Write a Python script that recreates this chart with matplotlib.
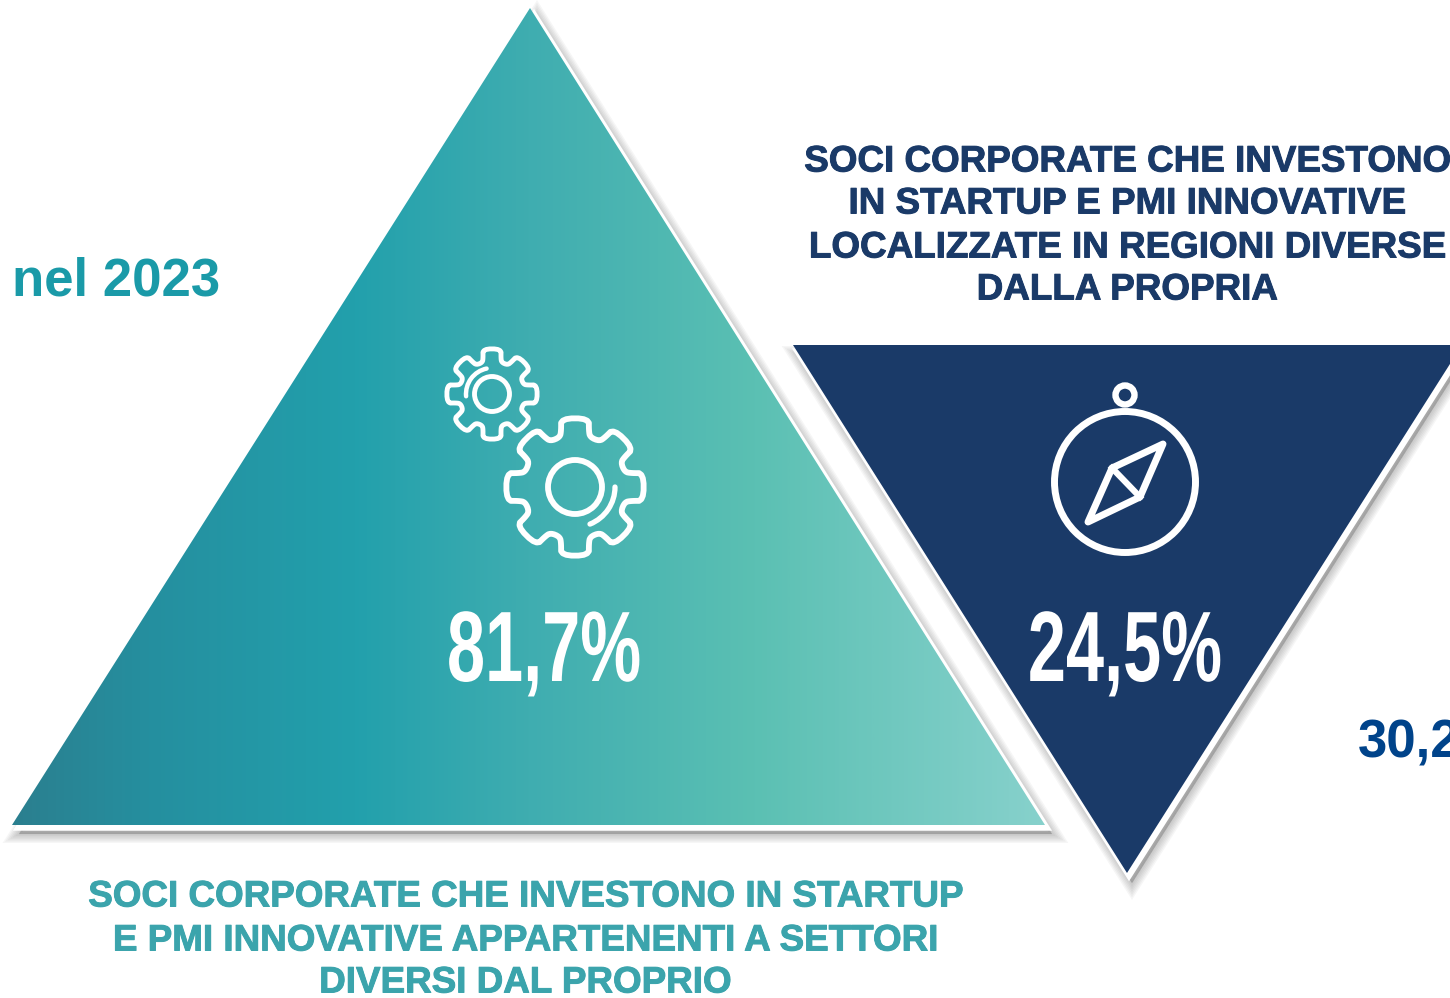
import matplotlib
matplotlib.use("Agg")
import matplotlib.patheffects as pe
import matplotlib.pyplot as plt
import numpy as np
from matplotlib.colors import LinearSegmentedColormap
from matplotlib.patches import Arc, Circle, Polygon
from matplotlib.transforms import Affine2D

# picture coordinates, y going down like the reference
W, H = 1450, 998

up_triangle = [(530, 8), (12, 825), (1045, 825)]
down_triangle = [(793, 345), (1462, 345), (1127, 873)]

grad_pos = [0.0, 0.13, 0.33, 0.5, 0.72, 1.0]
grad_cols = ["#2b7f8f", "#258f9f", "#22a0ac", "#3fadb0", "#5bc0b3", "#87d1cc"]

navy = "#1a3a68"
teal_text = "#3ba4ac"
head_teal = "#1a9aa8"
head_blue = "#00438a"

top_label = ["SOCI CORPORATE CHE INVESTONO", "IN STARTUP E PMI INNOVATIVE",
             "LOCALIZZATE IN REGIONI DIVERSE", "DALLA PROPRIA"]
top_label_y = [162, 204, 248, 290]
bottom_label = ["SOCI CORPORATE CHE INVESTONO IN STARTUP",
                "E PMI INNOVATIVE APPARTENENTI A SETTORI", "DIVERSI DAL PROPRIO"]
bottom_label_y = [897, 941, 983]

value_up = "81,7%"
value_down = "24,5%"
year_text = "nel 2023"
cut_value = "30,2%"

plt.rcParams["font.family"] = ["Liberation Sans", "DejaVu Sans"]


class Squeeze(pe.AbstractPathEffect):
    # no condensed face installed, so narrow the glyphs around a centre (in pixels)
    def __init__(self, sx, cx):
        super().__init__()
        self.sx = sx
        self.cx = cx

    def draw_path(self, renderer, gc, tpath, affine, rgbFace=None):
        squeeze = Affine2D().translate(-self.cx, 0).scale(self.sx, 1).translate(self.cx, 0)
        renderer.draw_path(gc, tpath, affine + squeeze, rgbFace)


def shadow(ax, pts, dx, dy, z):
    pts = np.array(pts, dtype=float)
    for lw in range(1, 15, 2):
        ax.add_patch(Polygon(pts + [dx + 3, dy + 5], closed=True, fc="#505050", ec="#505050",
                             lw=lw, alpha=0.05, joinstyle="miter", zorder=z))
    ax.add_patch(Polygon(pts + [dx, dy], closed=True, fc="white", ec="white", lw=2.5,
                         joinstyle="miter", zorder=z))


def smooth(pts, n=2):
    for _ in range(n):
        nxt = np.roll(pts, -1, axis=0)
        pts = np.column_stack([0.75 * pts + 0.25 * nxt, 0.25 * pts + 0.75 * nxt]).reshape(-1, 2)
    return pts


def gear(ax, cx, cy, r_out, r_in, lw):
    # 8 teeth with one pointing straight up
    ang = []
    rad = []
    for k in range(8):
        a = np.pi / 2 + k * np.pi / 4
        ang += [a - 0.24, a - 0.2, a + 0.2, a + 0.24, a + np.pi / 8 - 0.1, a + np.pi / 8 + 0.1]
        rad += [r_in + (r_out - r_in) * 0.35, r_out + 2, r_out + 2, r_in + (r_out - r_in) * 0.35, r_in - 1, r_in - 1]
    x = cx + np.array(rad) * np.cos(ang)
    y = cy - np.array(rad) * np.sin(ang)
    ax.add_patch(Polygon(smooth(np.column_stack([x, y])), closed=True, fill=False, ec="white", lw=lw,
                         joinstyle="round", zorder=6))


fig = plt.figure(figsize=(14.5, 9.98), dpi=100)
ax = fig.add_axes([0, 0, 1, 1])
ax.set_xlim(0, W)
ax.set_ylim(H, 0)
ax.axis("off")

# left triangle
shadow(ax, up_triangle, 4, 4, 1)
cmap = LinearSegmentedColormap.from_list("tri", list(zip(grad_pos, grad_cols)))
im = ax.imshow(np.linspace(0, 1, 512).reshape(1, -1), cmap=cmap, aspect="auto",
               extent=(12, 1045, 825, 8), zorder=2)
im.set_clip_path(Polygon(up_triangle, closed=True, transform=ax.transData))
ax.set_xlim(0, W)
ax.set_ylim(H, 0)

# right triangle
shadow(ax, down_triangle, 2, 5, 3)
ax.add_patch(Polygon(down_triangle, closed=True, fc=navy, ec="none", zorder=4))

# gears
gear(ax, 575, 487, 68, 53, 4.2)
ax.add_patch(Circle((575, 487), 27, fill=False, ec="white", lw=4.2, zorder=6))
ax.add_patch(Arc((575, 487), 80, 80, theta1=0, theta2=68, ec="white", lw=3.8, zorder=6, capstyle="round"))
gear(ax, 492, 394, 44, 34, 3.5)
ax.add_patch(Circle((492, 394), 17.5, fill=False, ec="white", lw=3.5, zorder=6))
ax.add_patch(Arc((492, 394), 52, 52, theta1=175, theta2=258, ec="white", lw=3.2, zorder=6, capstyle="round"))

# compass
ax.add_patch(Circle((1125, 482), 70.5, fill=False, ec="white", lw=5, zorder=6))
ax.add_patch(Circle((1125, 395), 9.5, fill=False, ec="white", lw=4.6, zorder=6))
needle = [(1163, 444), (1140, 497), (1088, 522), (1112, 468)]
ax.add_patch(Polygon(needle, closed=True, fill=False, ec="white", lw=5, joinstyle="round", zorder=6))
ax.plot([1112, 1140], [468, 497], color="white", lw=4.5, zorder=6)

# texts
ax.text(544, 655, value_up, color="white", weight="bold", fontsize=72, ha="center", va="center",
        zorder=7, path_effects=[Squeeze(0.685, 544)])
ax.text(1125, 655, value_down, color="white", weight="bold", fontsize=72, ha="center", va="center",
        zorder=7, path_effects=[Squeeze(0.685, 1125)])
for line, y in zip(top_label, top_label_y):
    ax.text(1127, y, line, color=navy, weight="bold", fontsize=26.5, ha="center", va="center",
            path_effects=[pe.withStroke(linewidth=0.7, foreground=navy)])
for line, y in zip(bottom_label, bottom_label_y):
    ax.text(525, y, line, color=teal_text, weight="bold", fontsize=26.5, ha="center", va="center",
            path_effects=[pe.withStroke(linewidth=0.7, foreground=teal_text)])
ax.text(12, 295, year_text, color=head_teal, weight="bold", fontsize=38, ha="left", va="baseline")
ax.text(1358, 757, cut_value, color=head_blue, weight="bold", fontsize=38, ha="left", va="baseline",
        clip_on=True)

fig.savefig("out.png", dpi=100)
